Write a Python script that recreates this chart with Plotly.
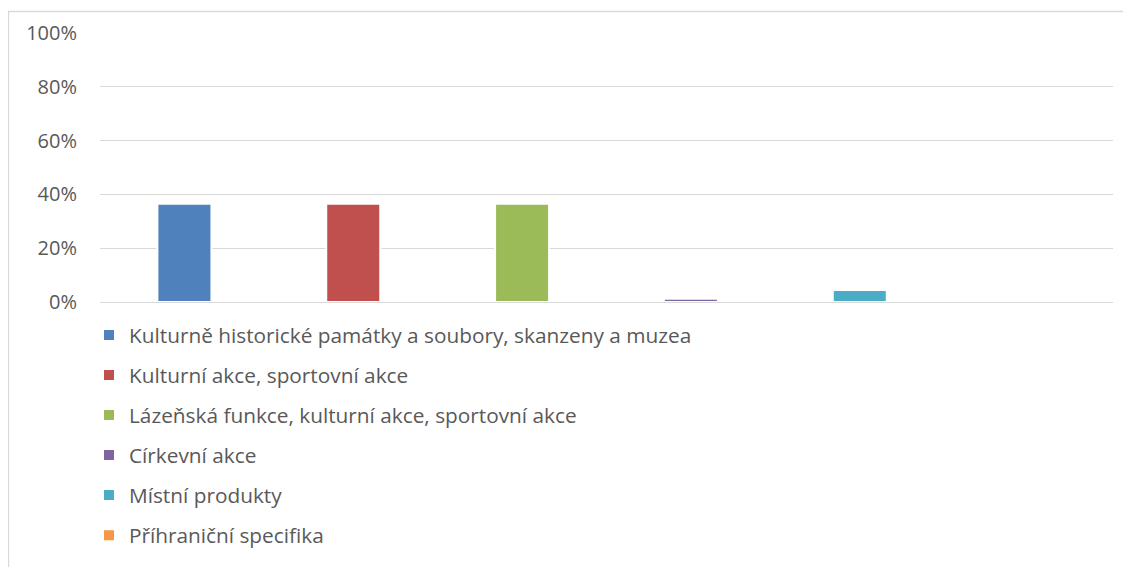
import plotly.graph_objects as go

series = [
    "Kulturně historické památky a soubory, skanzeny a muzea",
    "Kulturní akce, sportovní akce",
    "Lázeňská funkce, kulturní akce, sportovní akce",
    "Církevní akce",
    "Místní produkty",
    "Příhraniční specifika",
]
values = [0.365, 0.365, 0.365, 0.012, 0.045, 0.0]
colors = ["#4F81BD", "#C0504D", "#9BBB59", "#8064A2", "#4BACC6", "#F79646"]
category = [""]
y_ticks = [0, 0.2, 0.4, 0.6, 0.8, 1.0]

W, H = 1115, 559
L, R, T, B = 92, 10, 25, 265
ph = H - T - B  # plot height
pw = W - L - R

fig = go.Figure()
for i, (name, v, c) in enumerate(zip(series, values, colors)):
    fig.add_trace(go.Bar(
        x=category, y=[v], name=name, legendgroup=f"g{i}",
        marker=dict(color=c, line=dict(color="white", width=2)),
    ))

fig.update_layout(
    barmode="group", bargap=0, bargroupgap=0.68,
    width=W, height=H,
    margin=dict(l=L, r=R, t=T, b=B),
    paper_bgcolor="white", plot_bgcolor="white",
    font=dict(family="Open Sans", color="#595959", size=16),
    showlegend=True,
    legend=dict(
        orientation="v", x=-11 / pw, xanchor="left", y=-0.048, yanchor="top",
        font=dict(size=20.8, color="#595959"), tracegroupgap=10,
        itemwidth=30, traceorder="grouped",
    ),
    xaxis=dict(showticklabels=False, showline=False, showgrid=False, zeroline=False),
    yaxis=dict(range=[0, 1], tickvals=y_ticks, tickformat=".0%",
               showgrid=True, gridcolor="#D9D9D9", gridwidth=1.3,
               zeroline=True, zerolinecolor="#D9D9D9", zerolinewidth=1.3,
               showline=False, ticks="", ticklabelstandoff=22,
               tickfont=dict(size=20, color="#595959")),
    shapes=[dict(type="rect", xref="paper", yref="paper",
                 x0=(0.5 - L) / pw, x1=1.2, y0=-2, y1=(ph + T - 3.5) / ph,
                 line=dict(color="#D9D9D9", width=1.3), fillcolor="rgba(0,0,0,0)",
                 layer="below")],
)

fig.write_html("out.html")
